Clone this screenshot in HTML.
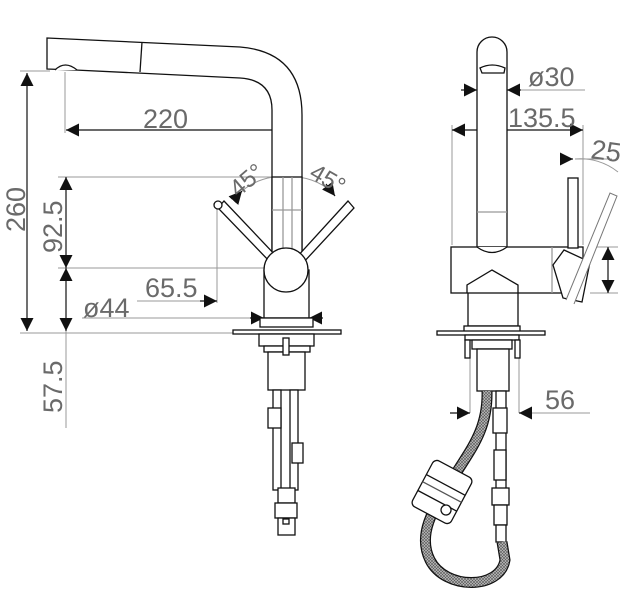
<!DOCTYPE html>
<html><head><meta charset="utf-8"><style>
html,body{margin:0;padding:0;background:#fff;width:620px;height:595px;overflow:hidden}
svg{display:block}
svg text{font-family:"Liberation Sans",sans-serif;fill:#6a6a6a;font-size:27px;}
</style></head><body>
<svg width="620" height="595" viewBox="0 0 620 595" xmlns="http://www.w3.org/2000/svg">
<defs>
<marker id="a" viewBox="0 0 10 10" refX="10" refY="5" markerWidth="13" markerHeight="13" markerUnits="userSpaceOnUse" orient="auto"><path d="M0,0L10,5L0,10z" fill="#111"/></marker>
<marker id="s" viewBox="0 0 10 10" refX="10" refY="5" markerWidth="13" markerHeight="13" markerUnits="userSpaceOnUse" orient="auto-start-reverse"><path d="M0,0L10,5L0,10z" fill="#111"/></marker>
<pattern id="h" width="3" height="3" patternUnits="userSpaceOnUse"><rect width="3" height="3" fill="#bbb"/><path d="M0,0L3,3M3,0L0,3" stroke="#555" stroke-width="0.6"/></pattern>
</defs>
<g fill="none" stroke="#999" stroke-width="1">
<line x1="65" y1="72" x2="65" y2="133"/>
<line x1="20" y1="71" x2="50" y2="71"/>
<line x1="58" y1="177" x2="292" y2="177"/>
<line x1="58" y1="268" x2="264" y2="268"/>
<line x1="20" y1="333" x2="260" y2="333"/>
<line x1="66" y1="268" x2="66" y2="428"/>
<line x1="217" y1="207" x2="217" y2="303"/>
<line x1="287" y1="290" x2="287" y2="303"/>
<line x1="82" y1="318" x2="264" y2="318"/>
<line x1="137" y1="301" x2="210" y2="301"/>
<path d="M242,191 A60,60 0 0 1 287,177"/>
<path d="M287,177 A60,60 0 0 1 333,193"/>
<line x1="452" y1="125" x2="452" y2="245"/>
<line x1="583" y1="125" x2="583" y2="245"/>
<line x1="505" y1="90" x2="585" y2="90"/>
<line x1="575" y1="159" x2="612" y2="159"/>
<path d="M575,159 A60,60 0 0 1 618,172"/>
<line x1="590" y1="247" x2="618" y2="247"/>
<line x1="590" y1="293" x2="618" y2="293"/>
<line x1="470" y1="350" x2="470" y2="413"/>
<line x1="519" y1="350" x2="519" y2="413"/>
<line x1="519" y1="413" x2="590" y2="413"/>
</g>
<g fill="none" stroke="#111" stroke-width="1.2">
<line x1="27" y1="73" x2="27" y2="331" marker-start="url(#s)" marker-end="url(#a)"/>
<line x1="66" y1="177" x2="66" y2="268" marker-start="url(#s)" marker-end="url(#a)"/>
<line x1="66" y1="268" x2="66" y2="331" marker-start="url(#s)" marker-end="url(#a)"/>
<line x1="66" y1="130" x2="287" y2="130" marker-start="url(#s)" marker-end="url(#a)"/>
<line x1="200" y1="301" x2="217" y2="301" marker-end="url(#a)"/>
<line x1="305" y1="301" x2="287" y2="301" marker-end="url(#a)"/>
<line x1="250" y1="318" x2="264" y2="318" marker-end="url(#a)"/>
<line x1="323" y1="318" x2="309" y2="318" marker-end="url(#a)"/>
<line x1="273" y1="193" x2="286" y2="193" marker-end="url(#a)"/>
<line x1="301" y1="193" x2="288" y2="193" marker-end="url(#a)"/>
<line x1="234" y1="200" x2="242" y2="191" marker-end="url(#a)"/>
<line x1="326" y1="184" x2="335" y2="196" marker-end="url(#a)"/>
<line x1="461" y1="90" x2="477" y2="90" marker-end="url(#a)"/>
<line x1="521" y1="90" x2="507" y2="90" marker-end="url(#a)"/>
<line x1="452" y1="130" x2="583" y2="130" marker-start="url(#s)" marker-end="url(#a)"/>
<line x1="560" y1="159" x2="573" y2="159" marker-end="url(#a)"/>
<line x1="608" y1="247" x2="608" y2="293" marker-start="url(#s)" marker-end="url(#a)"/>
<line x1="450" y1="413" x2="470" y2="413" marker-end="url(#a)"/>
<line x1="532" y1="413" x2="519" y2="413" marker-end="url(#a)"/>
</g>
<g fill="#fff" stroke="#111" stroke-width="1.3">
<path d="M47,38 L240,47 Q302,52 302,115 L302,255 L272,255 L272,110 Q272,80 240,78 L75,70 L47,69 Z"/>
<line x1="142" y1="42" x2="140" y2="72"/>
<path d="M55,70 Q65,60 77,70" />
<rect x="272" y="177" width="30" height="80"/>
<line x1="272" y1="210" x2="302" y2="210" stroke="#999"/>
<line x1="283" y1="177" x2="283" y2="255" stroke="#999"/>
<line x1="292" y1="177" x2="292" y2="255" stroke="#999"/>
<path d="M218,208 L224,201 L278,258 L272,264 Z"/>
<path d="M354,208 L348,201 L296,258 L302,264 Z"/>
<circle cx="218" cy="205" r="4"/>
<rect x="264" y="270" width="45" height="48"/>
<circle cx="286" cy="270" r="22"/>
<rect x="260" y="318" width="53" height="9"/>
<rect x="233" y="330" width="108" height="4"/>
<rect x="259" y="334" width="55" height="12"/>
<rect x="264" y="346" width="46" height="6"/>
<rect x="268" y="352" width="37" height="38"/>
<rect x="283" y="338" width="6" height="17"/>
<rect x="273" y="390" width="8" height="100"/>
<rect x="290" y="390" width="8" height="100"/>
<rect x="268" y="408" width="13" height="20"/>
<rect x="292" y="443" width="11" height="20"/>
<rect x="278" y="488" width="17" height="15"/>
<rect x="275" y="503" width="22" height="15"/>
<rect x="278" y="518" width="17" height="17"/>
<rect x="283" y="519" width="6" height="5"/>
<path d="M477,247 L477,52 A15,15 0 0 1 507,52 L507,247 Z"/>
<path d="M480,68 Q492,62 505,68 L504,73 L482,73 Z"/>
<line x1="477" y1="212" x2="507" y2="212" stroke="#999"/>
<rect x="451" y="247" width="132" height="46"/>
<path d="M477,247 Q492,258 507,247" />
<path d="M467,293 L467,285 L492,270 L518,285 L518,293"/>
<rect x="468" y="293" width="50" height="33"/>
<rect x="464" y="326" width="56" height="6"/>
<rect x="437" y="331" width="108" height="4"/>
<rect x="465" y="335" width="54" height="5"/>
<rect x="472" y="340" width="40" height="9"/>
<rect x="477" y="349" width="32" height="42"/>
<rect x="465" y="340" width="5" height="18"/>
<rect x="515" y="340" width="5" height="18"/>
<rect x="568" y="178" width="10" height="70"/>
<line x1="552" y1="247" x2="552" y2="293" stroke="#999"/>
<path d="M553,265 L564,250 L590,262 L582,302 L563,298 Z" fill="#fff"/>
<path d="M566,300 L610,193 L617,196 L574,304" stroke="#777" stroke-width="1"/>
<rect x="496" y="391" width="10" height="120"/>
<rect x="493" y="408" width="14" height="25"/>
<rect x="494" y="450" width="12" height="30"/>
<rect x="492" y="488" width="17" height="17"/>
<rect x="494" y="505" width="13" height="20"/>
<rect x="496" y="525" width="10" height="17"/>
</g>
<path d="M487,391 C488,430 470,450 455,475 C440,500 415,530 430,560 C445,590 500,590 505,560 L502,542" fill="none" stroke="#111" stroke-width="11"/>
<path d="M487,391 C488,430 470,450 455,475 C440,500 415,530 430,560 C445,590 500,590 505,560 L502,542" fill="none" stroke="url(#h)" stroke-width="8.5"/>
<g transform="translate(442,492) rotate(28)" stroke="#111" stroke-width="1.3" fill="#fff">
<rect x="-22" y="-26" width="44" height="52" rx="5"/>
<line x1="-22" y1="-8" x2="22" y2="-8"/><line x1="-22" y1="10" x2="22" y2="10"/>
<line x1="-22" y1="0" x2="22" y2="0" stroke="#555"/>
<circle cx="12" cy="14" r="5"/>
</g>
<text x="143" y="128">220</text>
<text x="145" y="297">65.5</text>
<text x="83" y="317">ø44</text>
<text transform="translate(25,232) rotate(-90)">260</text>
<text transform="translate(62,253) rotate(-90)">92.5</text>
<text transform="translate(62,413) rotate(-90)">57.5</text>
<text transform="translate(238,198) rotate(-40)" style="font-size:24px">45°</text>
<text transform="translate(308,177) rotate(30)" style="font-size:24px">45°</text>
<text x="528" y="86">ø30</text>
<text x="508" y="127">135.5</text>
<text x="590" y="158" transform="rotate(8 590 158)">25</text>
<text x="545" y="409">56</text>
</svg>
</body></html>
